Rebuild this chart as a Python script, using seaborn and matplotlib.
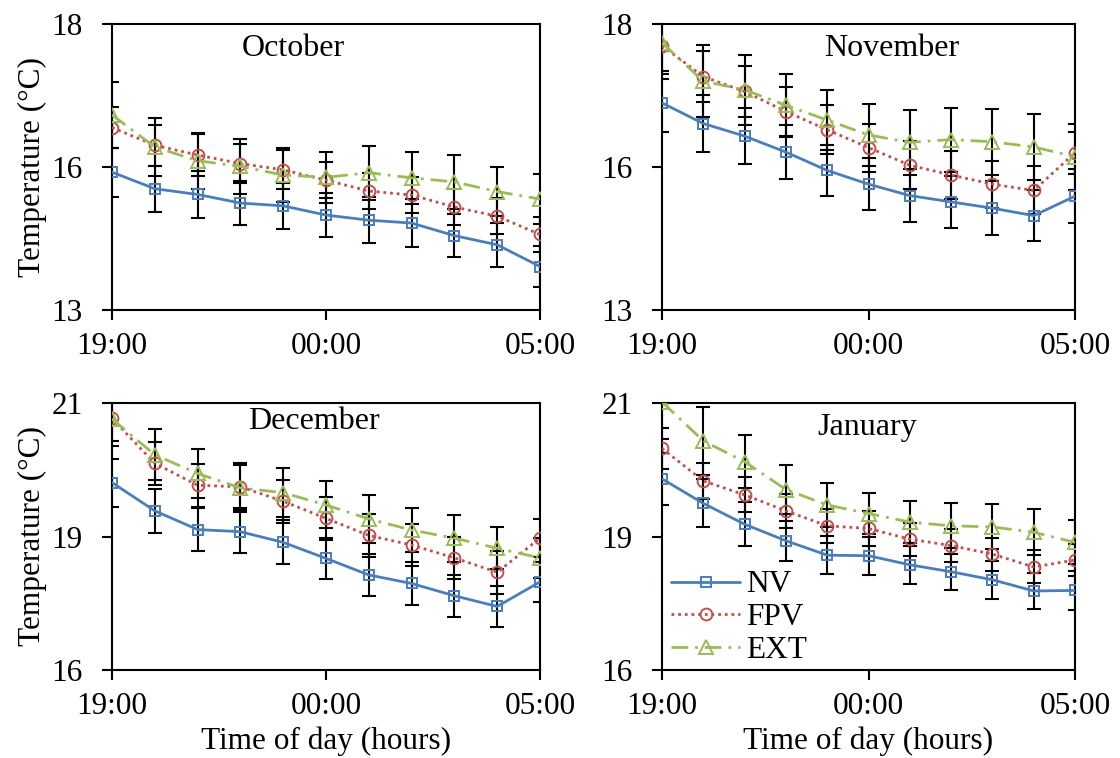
import numpy as np
import pandas as pd
import matplotlib
matplotlib.use("Agg")
import matplotlib.pyplot as plt
import seaborn as sns

sns.set_theme(style="white")
plt.rcParams['font.family'] = ['Liberation Serif', 'DejaVu Serif']
plt.rcParams['text.color'] = 'black'
plt.rcParams['axes.labelcolor'] = 'black'
plt.rcParams['xtick.color'] = 'black'
plt.rcParams['ytick.color'] = 'black'

hours = ["19:00", "20:00", "21:00", "22:00", "23:00", "00:00",
         "01:00", "02:00", "03:00", "04:00", "05:00"]
months = ["October", "November", "December", "January"]
series = ["NV", "FPV", "EXT"]

# mean temperatures (°C)
oct_nv = [15.41, 15.12, 15.02, 14.87, 14.82, 14.66, 14.57, 14.52, 14.30, 14.14, 13.76]
oct_fpv = [16.19, 15.88, 15.71, 15.56, 15.45, 15.27, 15.08, 15.01, 14.80, 14.64, 14.32]
oct_ext = [16.41, 15.85, 15.61, 15.51, 15.36, 15.32, 15.40, 15.31, 15.24, 15.07, 14.94]

nov_nv = [16.62, 16.26, 16.04, 15.76, 15.44, 15.20, 15.00, 14.89, 14.78, 14.65, 14.99]
nov_fpv = [17.62, 17.08, 16.82, 16.47, 16.15, 15.84, 15.53, 15.36, 15.20, 15.09, 15.75]
nov_ext = [17.67, 17.00, 16.85, 16.58, 16.32, 16.06, 15.93, 15.98, 15.94, 15.85, 15.68]

dec_nv = [19.51, 18.98, 18.63, 18.59, 18.39, 18.09, 17.78, 17.62, 17.39, 17.19, 17.65]
dec_fpv = [20.71, 19.87, 19.46, 19.43, 19.16, 18.84, 18.52, 18.34, 18.10, 17.83, 18.47]
dec_ext = [20.70, 20.03, 19.68, 19.41, 19.32, 19.09, 18.83, 18.62, 18.47, 18.28, 18.10]

jan_nv = [19.58, 19.12, 18.73, 18.42, 18.15, 18.14, 17.97, 17.84, 17.69, 17.48, 17.49]
jan_fpv = [20.15, 19.54, 19.28, 18.98, 18.70, 18.65, 18.45, 18.33, 18.17, 17.93, 18.06]
jan_ext = [21.02, 20.29, 19.90, 19.38, 19.09, 18.93, 18.77, 18.70, 18.68, 18.58, 18.39]

# error bar half-lengths (°C)
oct_nv_err = [0.43, 0.40, 0.41, 0.39, 0.40, 0.39, 0.40, 0.42, 0.37, 0.38, 0.36]
oct_fpv_err = [0.36, 0.36, 0.36, 0.34, 0.34, 0.32, 0.32, 0.32, 0.32, 0.32, 0.30]
oct_ext_err = [0.57, 0.50, 0.49, 0.48, 0.47, 0.45, 0.47, 0.46, 0.47, 0.43, 0.44]

nov_nv_err = [0.50, 0.50, 0.49, 0.47, 0.44, 0.45, 0.47, 0.45, 0.47, 0.44, 0.47]
nov_fpv_err = [0.45, 0.44, 0.44, 0.43, 0.43, 0.42, 0.42, 0.42, 0.41, 0.42, 0.37]
nov_ext_err = [0.64, 0.63, 0.61, 0.55, 0.52, 0.54, 0.57, 0.56, 0.58, 0.58, 0.58]

dec_nv_err = [0.45, 0.41, 0.41, 0.40, 0.41, 0.39, 0.39, 0.40, 0.39, 0.39, 0.37]
dec_fpv_err = [0.42, 0.40, 0.40, 0.40, 0.40, 0.40, 0.40, 0.40, 0.40, 0.40, 0.35]
dec_ext_err = [0.50, 0.48, 0.46, 0.46, 0.46, 0.44, 0.45, 0.41, 0.44, 0.39, 0.37]

jan_nv_err = [0.49, 0.45, 0.41, 0.37, 0.36, 0.36, 0.36, 0.34, 0.36, 0.34, 0.36]
jan_fpv_err = [0.38, 0.33, 0.33, 0.32, 0.32, 0.32, 0.31, 0.31, 0.31, 0.31, 0.30]
jan_ext_err = [0.70, 0.63, 0.50, 0.46, 0.42, 0.39, 0.39, 0.42, 0.42, 0.43, 0.41]

top_yticks = [13, 15.5, 18]
top_ylabels = ["13", "16", "18"]
bot_yticks = [16, 18.5, 21]
bot_ylabels = ["16", "19", "21"]
xtick_labels = ["19:00", "00:00", "05:00"]

data = {
    "October": (oct_nv, oct_fpv, oct_ext, oct_nv_err, oct_fpv_err, oct_ext_err),
    "November": (nov_nv, nov_fpv, nov_ext, nov_nv_err, nov_fpv_err, nov_ext_err),
    "December": (dec_nv, dec_fpv, dec_ext, dec_nv_err, dec_fpv_err, dec_ext_err),
    "January": (jan_nv, jan_fpv, jan_ext, jan_nv_err, jan_fpv_err, jan_ext_err),
}

colors = {"NV": "#4A7EBB", "FPV": "#C0504D", "EXT": "#9BBB59"}
markers = {"NV": "s", "FPV": "o", "EXT": "^"}
msizes = {"NV": 7, "FPV": 8.5, "EXT": 9.5}
linestyles = {"NV": "-", "FPV": (0, (1, 1.4)), "EXT": (0, (6, 2.5, 1, 2.5))}

W, H = 1120, 758
fig = plt.figure(figsize=(W / 100, H / 100), dpi=100)

boxes = {
    "October": (112, 24, 540, 310),
    "November": (662, 24, 1075, 310),
    "December": (112, 403, 540, 670),
    "January": (662, 403, 1075, 670),
}
title_pos = {"October": (0.423, 0.915), "November": (0.557, 0.915),
             "December": (0.472, 0.93), "January": (0.496, 0.91)}

FS = 22.5
x = np.arange(len(hours))
for m in months:
    l, t, r, b = boxes[m]
    ax = fig.add_axes([l / W, 1 - b / H, (r - l) / W, (b - t) / H])
    vals = data[m]
    for i, s in enumerate(series):
        df = pd.DataFrame({"hour": x, "temp": vals[i]})
        sns.lineplot(data=df, x="hour", y="temp", ax=ax, color=colors[s],
                     marker=markers[s], markersize=msizes[s],
                     markerfacecolor="none", markeredgecolor=colors[s],
                     markeredgewidth=1.4, linestyle=linestyles[s],
                     linewidth=2.0, label=s, legend=False, zorder=3)
    for i, s in enumerate(series):
        ax.errorbar(x, vals[i], yerr=vals[i + 3], fmt="none", ecolor="black",
                    elinewidth=1.5, capsize=4.8, capthick=1.5, zorder=2)
    ax.set_xlim(0, len(hours) - 1)
    ax.set_xticks([0, 5, 10])
    ax.set_xticklabels(xtick_labels)
    if m in ("October", "November"):
        ax.set_ylim(13, 18)
        ax.set_yticks(top_yticks)
        ax.set_yticklabels(top_ylabels)
    else:
        ax.set_ylim(16, 21)
        ax.set_yticks(bot_yticks)
        ax.set_yticklabels(bot_ylabels)
    ax.tick_params(axis="both", direction="out", length=7, width=1.5,
                   labelsize=FS, color="black", labelcolor="black",
                   bottom=True, left=True)
    ax.tick_params(axis="x", pad=9)
    ax.tick_params(axis="y", pad=14)
    for sp in ax.spines.values():
        sp.set_visible(True)
        sp.set_color("black")
        sp.set_linewidth(1.5)
    ax.set_xlabel("")
    ax.set_ylabel("")
    if m in ("October", "December"):
        ax.set_ylabel("Temperature (°C)", fontsize=FS, labelpad=3)
    if m in ("December", "January"):
        ax.set_xlabel("Time of day (hours)", fontsize=FS, labelpad=4)
    tx, ty = title_pos[m]
    ax.text(tx, ty, m, transform=ax.transAxes, ha="center", va="center",
            fontsize=23)
    ax.grid(False)
    if m == "January":
        ax.legend(loc="lower left", bbox_to_anchor=(-0.03, -0.063),
                  frameon=False, fontsize=FS, handlelength=2.2,
                  labelspacing=0.12, handletextpad=0.2, borderpad=0.2)

fig.savefig("out.png", dpi=100)
